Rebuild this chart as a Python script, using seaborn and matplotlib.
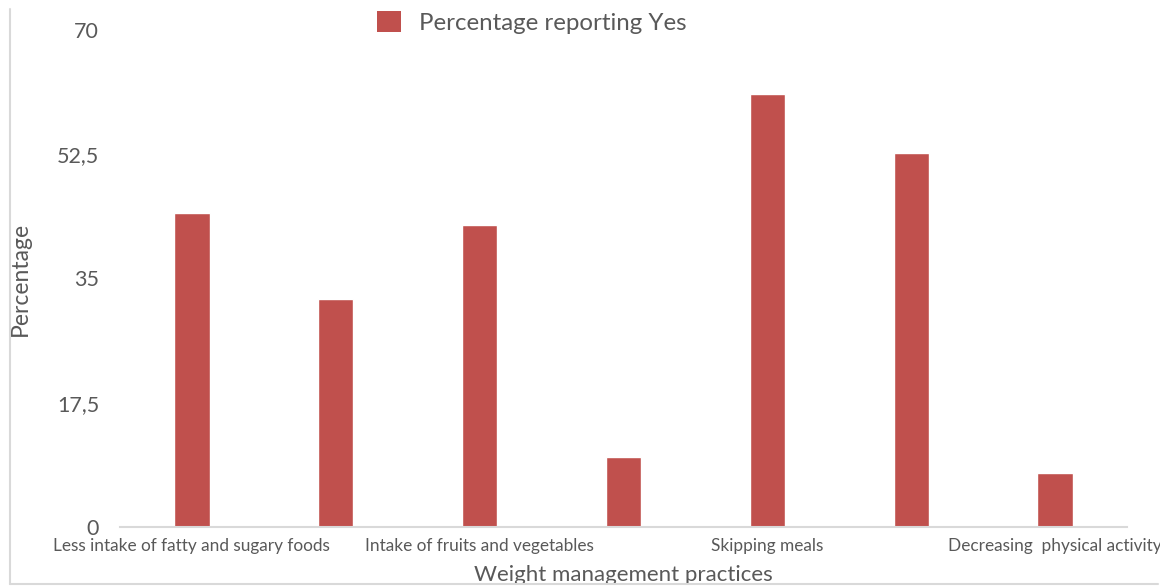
import matplotlib
matplotlib.use("Agg")
import matplotlib.pyplot as plt
import seaborn as sns
import pandas as pd
from matplotlib.lines import Line2D
from matplotlib.patches import Patch

# ---- data ----
categories = ["Less intake of fatty and sugary foods", "Practice 2",
              "Intake of fruits and vegetables", "Practice 4",
              "Skipping meals", "Practice 6",
              "Decreasing  physical activity"]
tick_labels = ["Less intake of fatty and sugary foods", "",
               "Intake of fruits and vegetables", "",
               "Skipping meals", "",
               "Decreasing  physical activity"]
values = [44.2, 32.1, 42.5, 9.9, 61.0, 52.7, 7.6]
y_ticks = [0, 17.5, 35, 52.5, 70]
y_tick_labels = ["0", "17,5", "35", "52,5", "70"]
series_name = "Percentage reporting Yes"

sns.set_theme(style="white")
plt.rcParams["font.family"] = ["Lato", "DejaVu Sans"]

df = pd.DataFrame({"practice": categories, "pct": values})

fig = plt.figure(figsize=(11.6, 5.86), dpi=100)
ax = fig.add_axes([0.1034, 0.1007, 0.8682, 0.8481])

sns.barplot(data=df, x="practice", y="pct", order=categories,
            color="#c0504d", width=0.245, saturation=1, ax=ax)

ax.set_xlim(-0.5, len(categories) - 0.5)
ax.set_ylim(0, 70)
ax.set_yticks(y_ticks)
ax.set_yticklabels(y_tick_labels, fontsize=15.5, color="#595959")
ax.set_xticks(range(len(categories)))
ax.set_xticklabels(tick_labels, fontsize=12.4, color="#595959")
ax.tick_params(axis="y", length=0, pad=15)
ax.tick_params(axis="x", length=0, pad=8)

for s in ["top", "right", "left"]:
    ax.spines[s].set_visible(False)
ax.spines["bottom"].set_color("#d9d9d9")
ax.spines["bottom"].set_linewidth(1.5)

ax.set_xlabel("Weight management practices", fontsize=16, color="#595959", labelpad=8)
ax.set_ylabel("Percentage", fontsize=16.5, color="#595959")
ax.yaxis.set_label_coords(-0.088, 0.5)

handles = [Patch(facecolor="#c0504d", edgecolor="none", label=series_name)]
fig.legend(handles=handles, loc="center left", bbox_to_anchor=(0.306, 0.962),
           frameon=False, fontsize=17.3, handlelength=1.0, handleheight=1.0,
           handletextpad=0.75, labelcolor="#595959")

# light outer frame
frame_col = "#d9d9d9"
fig.add_artist(Line2D([10/1160, 10/1160], [1 - 584/586, 1 - 9/586],
                      transform=fig.transFigure, color=frame_col, lw=1.5))
fig.add_artist(Line2D([10/1160, 1158/1160], [1 - 584/586, 1 - 584/586],
                      transform=fig.transFigure, color=frame_col, lw=1.5))

fig.savefig("out.png", dpi=100)
